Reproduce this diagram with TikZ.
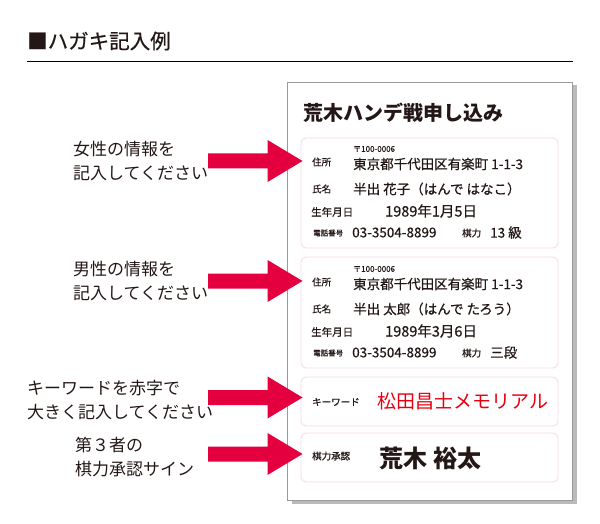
\documentclass[tikz,border=0pt]{standalone}
\usepackage{fontspec}
\setmainfont{Noto Sans CJK JP}
\newfontfamily\heavyfont{Noto Sans CJK JP}[FakeBold=0.6]
\usetikzlibrary{shadows,calc}
\definecolor{inkblack}{HTML}{231815}
\definecolor{arrowred}{HTML}{E4003F}
\definecolor{keyred}{HTML}{E60012}
\definecolor{boxpink}{HTML}{F9DCE5}
\definecolor{cardgray}{HTML}{9A9A9A}
\tikzset{hagaki/.style={draw=cardgray,line width=0.9pt,fill=white,
                        drop shadow={shadow xshift=4.5pt,shadow yshift=-3.5pt,fill=black!27,opacity=1}},
        fieldbox/.style={draw=boxpink,line width=0.9pt,rounded corners=5pt},
        fieldlabel/.style={anchor=west,inner sep=0pt,text=inkblack,font=\heavyfont\fontsize{9.5}{10}\selectfont},
        fieldvalue/.style={anchor=west,inner sep=0pt,text=inkblack,font=\heavyfont\fontsize{13.5}{14}\selectfont},
        notetext/.style={anchor=west,inner sep=0pt,align=left,text=inkblack,font=\fontsize{17}{24}\selectfont},
        notearrow/.style={fill=arrowred,
                          to path={let \p1=(\tikztostart), \p2=(\tikztotarget) in
                                   (\x1,\y1+7.5pt) -- (\x2-33pt,\y1+7.5pt) -- (\x2-33pt,\y1+21pt) -- (\x2+2pt,\y1)
                                   -- (\x2-33pt,\y1-21pt) -- (\x2-33pt,\y1-7.5pt) -- (\x1,\y1-7.5pt) -- cycle}},
        }
\begin{document}
\begin{tikzpicture}[x=1pt,y=-1pt]
    \useasboundingbox (0,0) rectangle (600,524);

    \node[anchor=west,inner sep=0pt,text=inkblack,font=\heavyfont\fontsize{20.5}{21}\selectfont] (heading) at (27,41) {■ハガキ記入例};
    \draw[line width=1pt] (27,62) -- (573,62);

    \node[hagaki,minimum width=285pt,minimum height=418pt] (card) at (429.5,291) {};
    \node[anchor=west,inner sep=0pt,text=inkblack,font=\bfseries\fontsize{20}{20}\selectfont] (title) at (303,113) {荒木ハンデ戦申し込み};

    \node[fieldbox,minimum width=257pt,minimum height=110pt] (b1) at (429.5,193) {};
    \node[fieldbox,minimum width=257pt,minimum height=111pt] (b2) at (429.5,312.5) {};
    \node[fieldbox,minimum width=257pt,minimum height=49pt] (b3) at (429.5,401.5) {};
    \node[fieldbox,minimum width=257pt,minimum height=49pt] (b4) at (429.5,457.5) {};

    \node[fieldlabel,font=\heavyfont\fontsize{8}{8}\selectfont] (zip1) at (353,149) {〒100-0006};
    \node[fieldlabel] (addrkey1) at (312,162) {住所};
    \node[fieldvalue] (addr1) at (353,164) {東京都千代田区有楽町 1-1-3};
    \node[fieldlabel] (namekey1) at (312,189) {氏名};
    \node[fieldvalue] (name1) at (353,189) {半出 花子（はんで はなこ）};
    \node[fieldlabel,font=\heavyfont\fontsize{10.5}{11}\selectfont] (birthkey1) at (311,212) {生年月日};
    \node[fieldvalue,font=\heavyfont\fontsize{14.5}{15}\selectfont] (birth1) at (385,211) {1989年1月5日};
    \node[fieldlabel,font=\heavyfont\fontsize{7.5}{8}\selectfont] (telkey1) at (313,233) {電話番号};
    \node[fieldvalue] (tel1) at (352,232.5) {03-3504-8899};
    \node[fieldlabel] (rankkey1) at (462,233) {棋力};
    \node[fieldvalue] (rank1) at (490,232.5) {13 級};

    \node[fieldlabel,font=\heavyfont\fontsize{8}{8}\selectfont] (zip2) at (353,269) {〒100-0006};
    \node[fieldlabel] (addrkey2) at (312,282) {住所};
    \node[fieldvalue] (addr2) at (353,284) {東京都千代田区有楽町 1-1-3};
    \node[fieldlabel] (namekey2) at (312,309) {氏名};
    \node[fieldvalue] (name2) at (353,309) {半出 太郎（はんで たろう）};
    \node[fieldlabel,font=\heavyfont\fontsize{10.5}{11}\selectfont] (birthkey2) at (311,332) {生年月日};
    \node[fieldvalue,font=\heavyfont\fontsize{14.5}{15}\selectfont] (birth2) at (385,331) {1989年3月6日};
    \node[fieldlabel,font=\heavyfont\fontsize{7.5}{8}\selectfont] (telkey2) at (313,353) {電話番号};
    \node[fieldvalue] (tel2) at (352,352.5) {03-3504-8899};
    \node[fieldlabel] (rankkey2) at (462,353) {棋力};
    \node[fieldvalue] (rank2) at (490,352.5) {三段};

    \node[fieldlabel] (wordkey) at (312,402) {キーワード};
    \node[fieldvalue,text=keyred,font=\fontsize{19}{19}\selectfont] (word) at (377,401) {松田昌士メモリアル};
    \node[fieldlabel] (signkey) at (312,456) {棋力承認};
    \node[fieldvalue,font=\bfseries\fontsize{24}{24}\selectfont] (sign) at (379,458) {荒木\hspace{6pt}裕太};

    \node[notetext] (n1) at (73,161.5) {女性の情報を\\記入してください};
    \node[notetext] (n2) at (73,281.5) {男性の情報を\\記入してください};
    \node[notetext] (n3) at (27,400.5) {キーワードを赤字で\\大きく記入してください};
    \node[notetext] (n4) at (75,457.5) {第３者の\\棋力承認サイン};

    \coordinate (a1) at (208,161);
    \coordinate (a2) at (208,281);
    \coordinate (a3) at (208,397.5);
    \coordinate (a4) at (208,454);
    \path[notearrow] (a1) to (b1.west |- a1);
    \path[notearrow] (a2) to (b2.west |- a2);
    \path[notearrow] (a3) to (b3.west |- a3);
    \path[notearrow] (a4) to (b4.west |- a4);
\end{tikzpicture}
\end{document}
